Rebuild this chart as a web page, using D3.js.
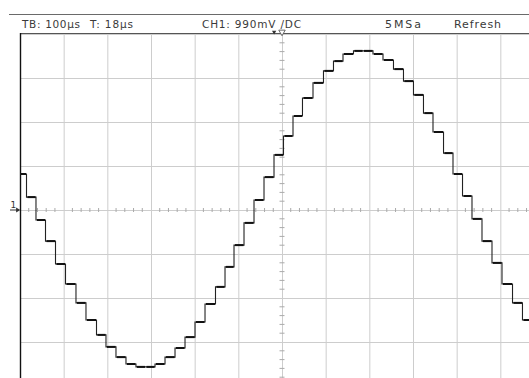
<!DOCTYPE html>
<html>
<head>
<meta charset="utf-8">
<script src="https://cdn.jsdelivr.net/npm/d3@7/dist/d3.min.js"></script>
<style>
  html, body { margin: 0; padding: 0; background: #fff; }
  svg { display: block; }
</style>
</head>
<body>
<svg id="chart" width="529" height="378"></svg>
<script>
// ---- Data ----
// Step start times of the sampled sine (microseconds, relative to screen centre)
const stepTimes = [
  -600, -585.1, -563.4, -541.6, -518.7, -495.8, -471.8, -448.9, -424.8, -403.1,
  -380.2, -357.3, -334.4, -312.6, -290.8, -267.9, -245.0, -222.1, -199.2, -176.3,
  -152.3, -130.5, -109.9, -87.0, -64.1, -41.2, -18.3, 3.4, 25.2, 46.9,
  71.0, 95.0, 117.9, 139.7, 163.7, 185.5, 208.4, 231.3, 255.3, 278.2,
  301.1, 324.0, 345.8, 369.9, 391.6, 413.4, 435.1, 458.0, 480.9, 503.8,
  527.9, 550.7
];
// Level held during each step (volts)
const stepVolts = [
  0.81, 0.29, -0.225, -0.70, -1.215, -1.665, -2.09, -2.475, -2.81, -3.08,
  -3.31, -3.465, -3.53, -3.53, -3.465, -3.31, -3.105, -2.86, -2.52, -2.115,
  -1.73, -1.28, -0.79, -0.29, 0.225, 0.74, 1.24, 1.665, 2.115, 2.52,
  2.86, 3.13, 3.35, 3.51, 3.58, 3.58, 3.51, 3.375, 3.17, 2.90,
  2.59, 2.18, 1.755, 1.28, 0.81, 0.315, -0.20, -0.70, -1.19, -1.665,
  -2.09, -2.475
];
const headerLabels = ["TB: 100\u00b5s", "T: 18\u00b5s", "CH1: 990mV /DC", "5MSa", "Refresh"];
const timeTicks = d3.range(-600, 601, 100);     // major divisions (100 µs/div)
const voltTicks = d3.range(-3.96, 3.97, 0.99);  // major divisions (990 mV/div)
const channelLabel = "1";

// ---- Layout ----
const svg = d3.select("#chart");
const x = d3.scaleLinear().domain([-600, 600]).range([20, 544]);
const y = d3.scaleLinear().domain([-3.96, 3.96]).range([386, 34]);
const gridColor = "#cdcdcd";

svg.append("defs").append("clipPath").attr("id", "plotclip")
  .append("rect").attr("x", 20).attr("y", 33).attr("width", 524).attr("height", 353);

// Header rule
svg.append("line").attr("x1", 9).attr("x2", 529).attr("y1", 14.5).attr("y2", 14.5)
  .attr("stroke", "#6a6a6a").attr("stroke-width", 1);

// Header texts
const headerX = [22, 90, 202, 385, 454];
const headerW = [58, 43, 99, 36, 47];
const headerSize = [10.5, 10.5, 10.5, 11, 11];
svg.selectAll("text.hdr").data(headerLabels).join("text")
  .attr("class", "hdr")
  .attr("x", (d, i) => headerX[i])
  .attr("y", 27.5)
  .attr("textLength", (d, i) => headerW[i])
  .attr("lengthAdjust", "spacing")
  .attr("font-family", "DejaVu Sans, sans-serif")
  .attr("font-size", (d, i) => headerSize[i])
  .attr("fill", "#3a3a3a")
  .text(d => d);

// Grid via axes
const gx = svg.append("g").attr("transform", "translate(0,386)")
  .call(d3.axisBottom(x).tickValues(timeTicks).tickSize(-352).tickFormat(""));
gx.select(".domain").remove();
gx.selectAll(".tick line").attr("stroke", gridColor).attr("stroke-width", 1);

const gy = svg.append("g").attr("transform", "translate(20,0)")
  .call(d3.axisLeft(y).tickValues(voltTicks).tickSize(-524).tickFormat(""));
gy.select(".domain").remove();
gy.selectAll(".tick line").attr("stroke", gridColor).attr("stroke-width", 1);

// Minor ticks on centre lines
const minorT = d3.range(-600, 601, 20).filter(t => t % 100 !== 0);
svg.append("g").selectAll("line").data(minorT).join("line")
  .attr("x1", d => x(d)).attr("x2", d => x(d))
  .attr("y1", y(0) - 2).attr("y2", y(0) + 2)
  .attr("stroke", "#aaa").attr("stroke-width", 1);
const minorV = d3.range(-20, 21).map(k => k * 0.198).filter((v, i) => (i % 5) !== 0);
svg.append("g").selectAll("line").data(minorV).join("line")
  .attr("x1", x(0) - 2.5).attr("x2", x(0) + 2.5)
  .attr("y1", d => y(d)).attr("y2", d => y(d))
  .attr("stroke", "#aaa").attr("stroke-width", 1);

// Plot borders
svg.append("line").attr("x1", 20).attr("x2", 529).attr("y1", 33.5).attr("y2", 33.5)
  .attr("stroke", "#555").attr("stroke-width", 1);
svg.append("line").attr("x1", 20.5).attr("x2", 20.5).attr("y1", 33).attr("y2", 378)
  .attr("stroke", "#111").attr("stroke-width", 1.4);

// Trigger markers at top
svg.append("path")
  .attr("d", d3.symbol().type(d3.symbolTriangle).size(8)())
  .attr("transform", `translate(${x(-18)},32) rotate(180)`)
  .attr("fill", "#333");
svg.append("path")
  .attr("d", d3.symbol().type(d3.symbolTriangle).size(18)())
  .attr("transform", `translate(${x(0)},32) rotate(180)`)
  .attr("fill", "#fff").attr("stroke", "#444").attr("stroke-width", 0.8);

// Channel marker "1" with arrow
svg.append("text").attr("x", 10.5).attr("y", 208).text(channelLabel)
  .attr("font-family", "DejaVu Sans, sans-serif").attr("font-size", 9).attr("fill", "#333");
svg.append("line").attr("x1", 10).attr("x2", 18).attr("y1", y(0)).attr("y2", y(0))
  .attr("stroke", "#333").attr("stroke-width", 1);
svg.append("path")
  .attr("d", d3.symbol().type(d3.symbolTriangle).size(10)())
  .attr("transform", `translate(17.5,${y(0)}) rotate(90)`)
  .attr("fill", "#333");

// Waveform
const pts = stepTimes.map((t, i) => ({ t, v: stepVolts[i] }));
pts.push({ t: 600, v: stepVolts[stepVolts.length - 1] });
const trace = svg.append("g").attr("clip-path", "url(#plotclip)");
trace.append("path")
  .datum(pts)
  .attr("d", d3.line().x(d => x(d.t)).y(d => y(d.v)).curve(d3.curveStepAfter))
  .attr("fill", "none").attr("stroke", "#222").attr("stroke-width", 1.1);
// Thicker plateaus
const plateaus = stepTimes.map((t, i) => ({
  t0: t, t1: i + 1 < stepTimes.length ? stepTimes[i + 1] : 600, v: stepVolts[i]
}));
trace.selectAll("line.plat").data(plateaus).join("line")
  .attr("class", "plat")
  .attr("x1", d => x(d.t0) + 1).attr("x2", d => x(d.t1) - 0.5)
  .attr("y1", d => y(d.v)).attr("y2", d => y(d.v))
  .attr("stroke", "#111").attr("stroke-width", 2);
</script>
</body>
</html>
